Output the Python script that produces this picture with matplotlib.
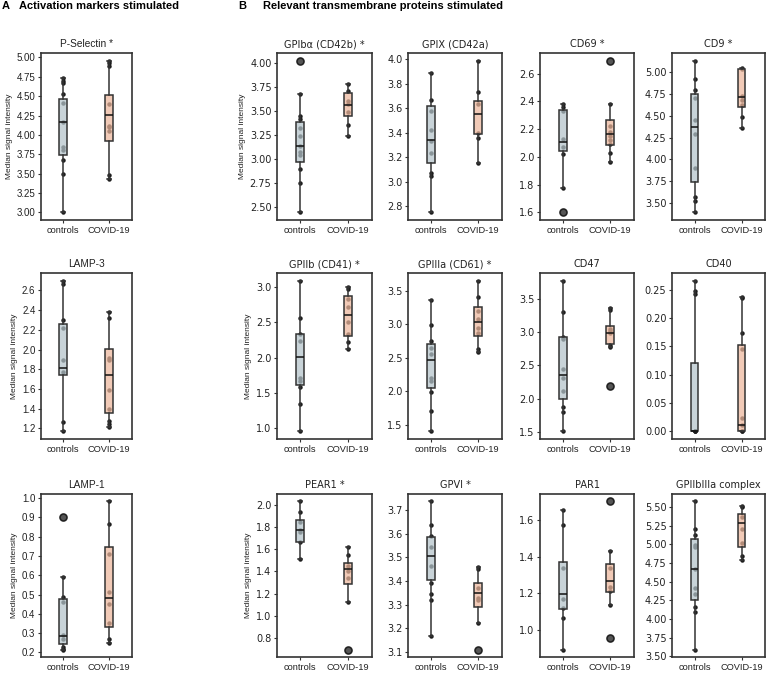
import matplotlib
matplotlib.use("Agg")
import matplotlib.pyplot as plt

# ---------------- data ----------------
groups = ["controls", "COVID-19"]

# box stats: [whisker low, Q1, median, Q3, whisker high]
PSEL_CTRL_BOX = [3.00, 3.74, 4.17, 4.47, 4.73]
PSEL_CTRL_PTS = [4.73, 4.70, 4.67, 4.53, 4.41, 4.17, 3.84, 3.81, 3.68, 3.49, 3.00]
PSEL_CTRL_OUT = []
PSEL_COV_BOX = [3.43, 3.92, 4.26, 4.52, 4.96]
PSEL_COV_PTS = [4.96, 4.93, 4.89, 4.40, 4.12, 4.10, 4.05, 3.48, 3.43]
PSEL_COV_OUT = []

LAMP3_CTRL_BOX = [1.17, 1.74, 1.815, 2.26, 2.70]
LAMP3_CTRL_PTS = [2.70, 2.67, 2.30, 2.22, 1.89, 1.77, 1.27, 1.17]
LAMP3_CTRL_OUT = []
LAMP3_COV_BOX = [1.22, 1.36, 1.74, 2.01, 2.385]
LAMP3_COV_PTS = [2.385, 2.32, 1.91, 1.89, 1.59, 1.40, 1.28, 1.25, 1.22]
LAMP3_COV_OUT = []

LAMP1_CTRL_BOX = [0.215, 0.246, 0.284, 0.478, 0.592]
LAMP1_CTRL_PTS = [0.592, 0.486, 0.46, 0.29, 0.27, 0.23, 0.22, 0.215]
LAMP1_CTRL_OUT = [0.90]
LAMP1_COV_BOX = [0.251, 0.332, 0.483, 0.748, 0.983]
LAMP1_COV_PTS = [0.983, 0.868, 0.709, 0.512, 0.452, 0.354, 0.268, 0.251]
LAMP1_COV_OUT = []

GPIB_CTRL_BOX = [2.447, 2.976, 3.142, 3.39, 3.675]
GPIB_CTRL_PTS = [3.675, 3.456, 3.42, 3.33, 3.24, 3.14, 3.08, 3.05, 2.90, 2.75, 2.447]
GPIB_CTRL_OUT = [4.028]
GPIB_COV_BOX = [3.24, 3.453, 3.566, 3.69, 3.78]
GPIB_COV_PTS = [3.78, 3.71, 3.61, 3.58, 3.49, 3.36, 3.24]
GPIB_COV_OUT = []

GPIX_CTRL_BOX = [2.747, 3.151, 3.343, 3.619, 3.891]
GPIX_CTRL_PTS = [3.891, 3.666, 3.574, 3.424, 3.33, 3.234, 3.067, 3.045, 2.747]
GPIX_CTRL_OUT = []
GPIX_COV_BOX = [3.148, 3.393, 3.555, 3.66, 3.99]
GPIX_COV_PTS = [3.99, 3.73, 3.638, 3.40, 3.36, 3.148]
GPIX_COV_OUT = []

CD69_CTRL_BOX = [1.779, 2.041, 2.11, 2.34, 2.377]
CD69_CTRL_PTS = [2.377, 2.36, 2.33, 2.132, 2.073, 2.024, 1.779]
CD69_CTRL_OUT = [1.60]
CD69_COV_BOX = [1.96, 2.085, 2.166, 2.262, 2.377]
CD69_COV_PTS = [2.377, 2.225, 2.18, 2.15, 2.12, 2.09, 2.029, 1.96]
CD69_COV_OUT = [2.693]

CD9_CTRL_BOX = [3.396, 3.74, 4.37, 4.745, 5.128]
CD9_CTRL_PTS = [5.128, 4.915, 4.787, 4.70, 4.45, 4.29, 3.898, 3.577, 3.53, 3.396]
CD9_CTRL_OUT = []
CD9_COV_BOX = [4.354, 4.594, 4.714, 5.027, 5.043]
CD9_COV_PTS = [5.043, 5.03, 4.72, 4.68, 4.62, 4.49, 4.354]
CD9_COV_OUT = []

GPIIB_CTRL_BOX = [0.947, 1.614, 2.007, 2.329, 3.096]
GPIIB_CTRL_PTS = [3.096, 2.559, 2.34, 2.237, 1.705, 1.662, 1.576, 1.336, 0.947]
GPIIB_CTRL_OUT = []
GPIIB_COV_BOX = [2.127, 2.305, 2.612, 2.87, 3.005]
GPIIB_COV_PTS = [3.005, 2.97, 2.832, 2.717, 2.50, 2.33, 2.22, 2.127]
GPIIB_COV_OUT = []

GPIIIA_CTRL_BOX = [1.405, 2.056, 2.472, 2.708, 3.365]
GPIIIA_CTRL_PTS = [3.365, 2.984, 2.753, 2.65, 2.55, 2.20, 2.16, 1.99, 1.71, 1.405]
GPIIIA_CTRL_OUT = []
GPIIIA_COV_BOX = [2.588, 2.823, 3.03, 3.254, 3.65]
GPIIIA_COV_PTS = [3.65, 3.40, 3.20, 3.08, 2.95, 2.87, 2.63, 2.588]
GPIIIA_COV_OUT = []

CD47_CTRL_BOX = [1.505, 1.992, 2.358, 2.926, 3.774]
CD47_CTRL_PTS = [3.774, 3.30, 2.92, 2.90, 2.45, 2.307, 2.112, 1.88, 1.79, 1.505]
CD47_CTRL_OUT = []
CD47_COV_BOX = [2.77, 2.82, 2.99, 3.094, 3.363]
CD47_COV_PTS = [3.363, 3.33, 3.05, 3.02, 2.99, 2.80, 2.77]
CD47_COV_OUT = [2.195]

CD40_CTRL_BOX = [0.0, 0.0, 0.0, 0.121, 0.266]
CD40_CTRL_PTS = [0.266, 0.248, 0.242, 0.0, 0.0, 0.0]
CD40_CTRL_OUT = []
CD40_COV_BOX = [0.0, 0.0, 0.012, 0.152, 0.2375]
CD40_COV_PTS = [0.2375, 0.235, 0.173, 0.145, 0.023, 0.012, 0.0, 0.0]
CD40_COV_OUT = []

PEAR1_CTRL_BOX = [1.509, 1.663, 1.774, 1.866, 2.03]
PEAR1_CTRL_PTS = [2.03, 1.934, 1.84, 1.77, 1.75, 1.66, 1.509]
PEAR1_CTRL_OUT = []
PEAR1_COV_BOX = [1.124, 1.282, 1.42, 1.474, 1.618]
PEAR1_COV_PTS = [1.618, 1.548, 1.45, 1.40, 1.336, 1.124]
PEAR1_COV_OUT = [0.695]

GPVI_CTRL_BOX = [3.167, 3.405, 3.506, 3.585, 3.736]
GPVI_CTRL_PTS = [3.736, 3.638, 3.59, 3.543, 3.464, 3.39, 3.345, 3.32, 3.167]
GPVI_CTRL_OUT = []
GPVI_COV_BOX = [3.222, 3.29, 3.35, 3.39, 3.46]
GPVI_COV_PTS = [3.46, 3.45, 3.37, 3.33, 3.32, 3.222]
GPVI_COV_OUT = [3.11]

PAR1_CTRL_BOX = [0.891, 1.116, 1.198, 1.369, 1.656]
PAR1_CTRL_PTS = [1.656, 1.576, 1.338, 1.171, 1.12, 1.062, 0.891]
PAR1_CTRL_OUT = []
PAR1_COV_BOX = [1.135, 1.209, 1.267, 1.358, 1.431]
PAR1_COV_PTS = [1.431, 1.338, 1.235, 1.21, 1.135]
PAR1_COV_OUT = [1.704, 0.955]

GPC_CTRL_BOX = [3.59, 4.248, 4.668, 5.067, 5.575]
GPC_CTRL_PTS = [5.575, 5.20, 5.13, 4.99, 4.97, 4.668, 4.415, 4.33, 4.165, 4.09, 3.59]
GPC_CTRL_OUT = []
GPC_COV_BOX = [4.795, 4.97, 5.28, 5.404, 5.513]
GPC_COV_PTS = [5.513, 5.50, 5.37, 5.21, 5.02, 4.84, 4.795]
GPC_COV_OUT = []

# panel table built from the named arrays: (title, star, section, row, col, ctrl, cov, tick step, decimals)
PANELS = [
    ("P-Selectin", True, "A", 0, 0, (PSEL_CTRL_BOX, PSEL_CTRL_PTS, PSEL_CTRL_OUT), (PSEL_COV_BOX, PSEL_COV_PTS, PSEL_COV_OUT), 0.25, 2),
    ("LAMP-3", False, "A", 1, 0, (LAMP3_CTRL_BOX, LAMP3_CTRL_PTS, LAMP3_CTRL_OUT), (LAMP3_COV_BOX, LAMP3_COV_PTS, LAMP3_COV_OUT), 0.2, 1),
    ("LAMP-1", False, "A", 2, 0, (LAMP1_CTRL_BOX, LAMP1_CTRL_PTS, LAMP1_CTRL_OUT), (LAMP1_COV_BOX, LAMP1_COV_PTS, LAMP1_COV_OUT), 0.1, 1),
    ("GPIbα (CD42b)", True, "B", 0, 1, (GPIB_CTRL_BOX, GPIB_CTRL_PTS, GPIB_CTRL_OUT), (GPIB_COV_BOX, GPIB_COV_PTS, GPIB_COV_OUT), 0.25, 2),
    ("GPIX (CD42a)", False, "B", 0, 2, (GPIX_CTRL_BOX, GPIX_CTRL_PTS, GPIX_CTRL_OUT), (GPIX_COV_BOX, GPIX_COV_PTS, GPIX_COV_OUT), 0.2, 1),
    ("CD69", True, "B", 0, 3, (CD69_CTRL_BOX, CD69_CTRL_PTS, CD69_CTRL_OUT), (CD69_COV_BOX, CD69_COV_PTS, CD69_COV_OUT), 0.2, 1),
    ("CD9", True, "B", 0, 4, (CD9_CTRL_BOX, CD9_CTRL_PTS, CD9_CTRL_OUT), (CD9_COV_BOX, CD9_COV_PTS, CD9_COV_OUT), 0.25, 2),
    ("GPIIb (CD41)", True, "B", 1, 1, (GPIIB_CTRL_BOX, GPIIB_CTRL_PTS, GPIIB_CTRL_OUT), (GPIIB_COV_BOX, GPIIB_COV_PTS, GPIIB_COV_OUT), 0.5, 1),
    ("GPIIIa (CD61)", True, "B", 1, 2, (GPIIIA_CTRL_BOX, GPIIIA_CTRL_PTS, GPIIIA_CTRL_OUT), (GPIIIA_COV_BOX, GPIIIA_COV_PTS, GPIIIA_COV_OUT), 0.5, 1),
    ("CD47", False, "B", 1, 3, (CD47_CTRL_BOX, CD47_CTRL_PTS, CD47_CTRL_OUT), (CD47_COV_BOX, CD47_COV_PTS, CD47_COV_OUT), 0.5, 1),
    ("CD40", False, "B", 1, 4, (CD40_CTRL_BOX, CD40_CTRL_PTS, CD40_CTRL_OUT), (CD40_COV_BOX, CD40_COV_PTS, CD40_COV_OUT), 0.05, 2),
    ("PEAR1", True, "B", 2, 1, (PEAR1_CTRL_BOX, PEAR1_CTRL_PTS, PEAR1_CTRL_OUT), (PEAR1_COV_BOX, PEAR1_COV_PTS, PEAR1_COV_OUT), 0.2, 1),
    ("GPVI", True, "B", 2, 2, (GPVI_CTRL_BOX, GPVI_CTRL_PTS, GPVI_CTRL_OUT), (GPVI_COV_BOX, GPVI_COV_PTS, GPVI_COV_OUT), 0.1, 1),
    ("PAR1", False, "B", 2, 3, (PAR1_CTRL_BOX, PAR1_CTRL_PTS, PAR1_CTRL_OUT), (PAR1_COV_BOX, PAR1_COV_PTS, PAR1_COV_OUT), 0.2, 1),
    ("GPIIbIIIa complex", False, "B", 2, 4, (GPC_CTRL_BOX, GPC_CTRL_PTS, GPC_CTRL_OUT), (GPC_COV_BOX, GPC_COV_PTS, GPC_COV_OUT), 0.25, 2),
]

# ---------------- layout / style ----------------
W, H = 767, 674
COLS = [(41, 132), (277, 372), (408, 502), (540, 634), (672, 765)]
ROWS = [(53, 220), (273, 439), (494, 657)]
FACE = ["#b3c3c9", "#ecb69c"]
EDGE = "#333333"
ALPHA = 0.72
ARIAL = "Liberation Sans"
DEJAVU = "DejaVu Sans"

from matplotlib.ticker import MultipleLocator, FormatStrFormatter

fig = plt.figure(figsize=(W / 100, H / 100), dpi=100)

for title, star, sect, r, c, ctrl, cov, step, dec in PANELS:
    x0, x1 = COLS[c]
    y0, y1 = ROWS[r]
    ax = fig.add_axes([x0 / W, 1 - y1 / H, (x1 - x0) / W, (y1 - y0) / H])
    tfont = ARIAL if sect == "A" else DEJAVU
    for i, (box, pts, out) in enumerate([ctrl, cov]):
        # strip points (behind the semi-transparent box)
        ax.plot([i] * len(pts), pts, "o", ms=2.2, color="#1e1e1e", zorder=1)
        st = dict(whislo=box[0], q1=box[1], med=box[2], q3=box[3], whishi=box[4],
                  fliers=out, label=groups[i])
        bp = ax.bxp([st], positions=[i], widths=0.16, patch_artist=True,
                    showfliers=True, manage_ticks=False,
                    boxprops=dict(facecolor=FACE[i], edgecolor=EDGE, lw=1.1),
                    whiskerprops=dict(color=EDGE, lw=1.1),
                    capprops=dict(color=EDGE, lw=1.1),
                    medianprops=dict(color="#111111", lw=1.1),
                    flierprops=dict(marker="o", ms=5, markerfacecolor="#555555",
                                    markeredgecolor="#222222", markeredgewidth=1.2))
        for b in bp["boxes"]:
            b.set_facecolor(matplotlib.colors.to_rgba(FACE[i], ALPHA))
            b.set_edgecolor(EDGE)
            b.set_zorder(2)
        for k in ("whiskers", "caps", "medians"):
            for ln in bp[k]:
                ln.set_zorder(2.5)
        for ln in bp["caps"]:
            ln.set_xdata([i - 0.035, i + 0.035])
        for ln in bp["fliers"]:
            ln.set_zorder(3)
    ax.set_xlim(-0.48, 1.5)
    ax.set_xticks([0, 1])
    ax.set_xticklabels(groups, fontfamily=ARIAL, fontsize=6.7)
    ax.yaxis.set_major_locator(MultipleLocator(step))
    ax.yaxis.set_major_formatter(FormatStrFormatter("%." + str(dec) + "f"))
    for lab in ax.get_yticklabels():
        lab.set_fontfamily(tfont)
        lab.set_fontsize(7)
    ax.tick_params(length=2.5, width=0.8, color=EDGE, pad=1.5, labelcolor="#222222")
    for sp in ax.spines.values():
        sp.set_color(EDGE)
        sp.set_linewidth(1.2)
    ttl = title + (" *" if star else "")
    ax.set_title(ttl, fontfamily=tfont, fontsize=7.3 if sect == "A" else 7, pad=4, color="#222222")
    if c <= 1:
        ax.set_ylabel("Median signal intensity", fontfamily=ARIAL, fontsize=6, color="#222222", labelpad=3)

fig.text(2 / W, 1 - 6 / H, "A", fontfamily=ARIAL, fontweight="bold", fontsize=8, va="center")
fig.text(19 / W, 1 - 6 / H, "Activation markers stimulated", fontfamily=ARIAL, fontweight="bold", fontsize=8, va="center")
fig.text(238 / W, 1 - 6 / H, "B", fontfamily=ARIAL, fontweight="bold", fontsize=8, va="center")
fig.text(263 / W, 1 - 6 / H, "Relevant transmembrane proteins stimulated", fontfamily=ARIAL, fontweight="bold", fontsize=8, va="center")

fig.savefig("out.png", dpi=100)
